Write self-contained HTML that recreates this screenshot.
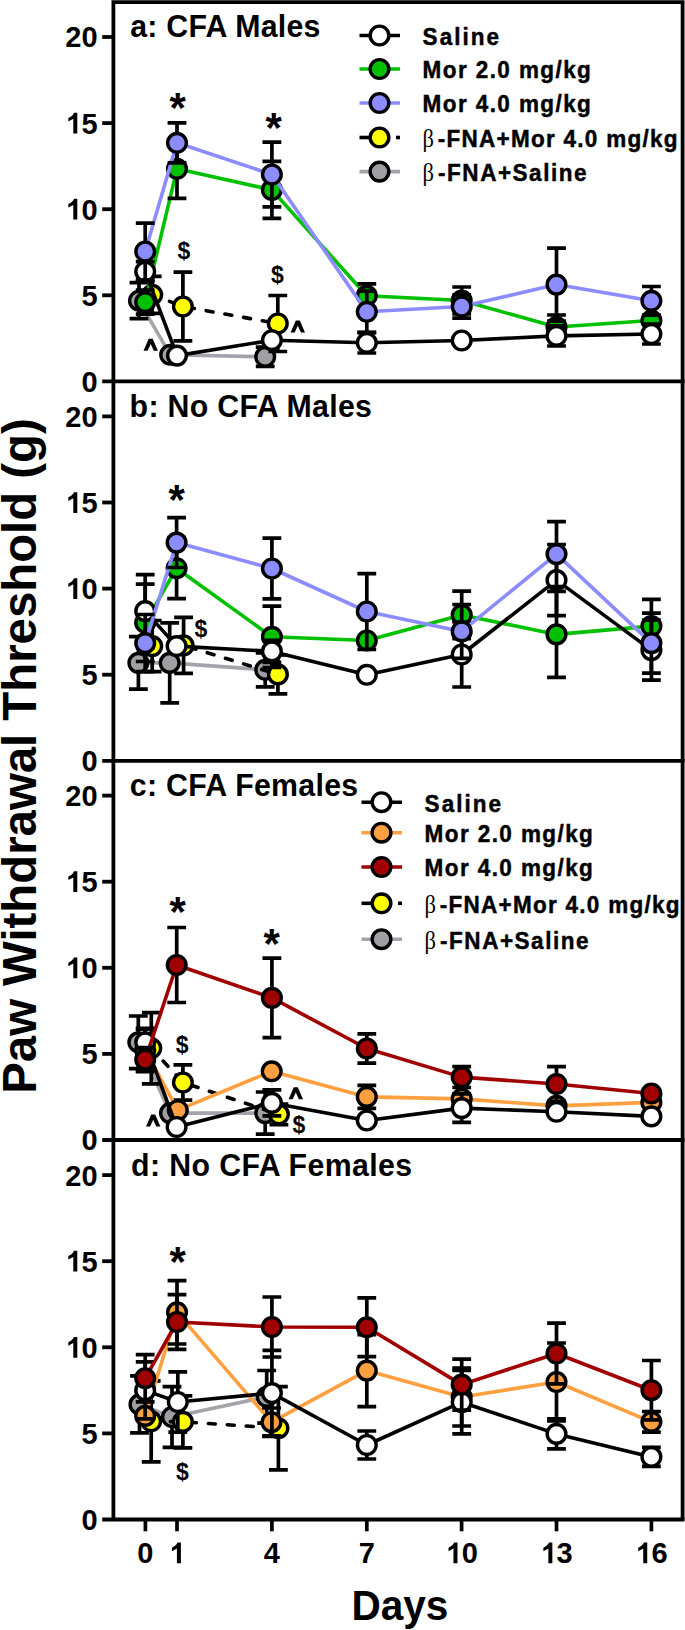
<!DOCTYPE html>
<html><head><meta charset="utf-8"><style>
html,body{margin:0;padding:0;background:#fff;}
svg{display:block;}
</style></head><body>
<svg width="685" height="1630" viewBox="0 0 685 1630">
<rect width="685" height="1630" fill="#fff"/>
<path d="M113.4,1519.5V2.1H682.6V1519.5" fill="none" stroke="#000" stroke-width="3.8"/>
<path d="M102.2,381.4H684.5" stroke="#000" stroke-width="3.8"/>
<path d="M102.2,295.3H113.4" stroke="#000" stroke-width="3.8"/>
<path d="M102.2,209.2H113.4" stroke="#000" stroke-width="3.8"/>
<path d="M102.2,123.1H113.4" stroke="#000" stroke-width="3.8"/>
<path d="M102.2,37.0H113.4" stroke="#000" stroke-width="3.8"/>
<text x="81.48" y="391.8" style="font-family:'Liberation Sans',sans-serif;font-weight:bold;font-size:29px">0</text>
<text x="81.48" y="305.7" style="font-family:'Liberation Sans',sans-serif;font-weight:bold;font-size:29px">5</text>
<path d="M77.30,219.60 L73.30,219.60 L73.30,204.90 L68.34,207.62 L68.34,204.06 L71.15,202.49 L72.95,200.75 L74.05,198.84 L77.30,198.84Z" fill="#000"/>
<text x="81.48" y="219.6" style="font-family:'Liberation Sans',sans-serif;font-weight:bold;font-size:29px">0</text>
<path d="M77.30,133.50 L73.30,133.50 L73.30,118.80 L68.34,121.52 L68.34,117.96 L71.15,116.39 L72.95,114.65 L74.05,112.74 L77.30,112.74Z" fill="#000"/>
<text x="81.48" y="133.5" style="font-family:'Liberation Sans',sans-serif;font-weight:bold;font-size:29px">5</text>
<text x="65.35" y="47.4" style="font-family:'Liberation Sans',sans-serif;font-weight:bold;font-size:29px">2</text>
<text x="81.48" y="47.4" style="font-family:'Liberation Sans',sans-serif;font-weight:bold;font-size:29px">0</text>
<path d="M102.2,760.8H684.5" stroke="#000" stroke-width="3.8"/>
<path d="M102.2,674.7H113.4" stroke="#000" stroke-width="3.8"/>
<path d="M102.2,588.6H113.4" stroke="#000" stroke-width="3.8"/>
<path d="M102.2,502.5H113.4" stroke="#000" stroke-width="3.8"/>
<path d="M102.2,416.4H113.4" stroke="#000" stroke-width="3.8"/>
<text x="81.48" y="771.2" style="font-family:'Liberation Sans',sans-serif;font-weight:bold;font-size:29px">0</text>
<text x="81.48" y="685.1" style="font-family:'Liberation Sans',sans-serif;font-weight:bold;font-size:29px">5</text>
<path d="M77.30,599.00 L73.30,599.00 L73.30,584.30 L68.34,587.02 L68.34,583.46 L71.15,581.89 L72.95,580.15 L74.05,578.24 L77.30,578.24Z" fill="#000"/>
<text x="81.48" y="599.0" style="font-family:'Liberation Sans',sans-serif;font-weight:bold;font-size:29px">0</text>
<path d="M77.30,512.90 L73.30,512.90 L73.30,498.20 L68.34,500.92 L68.34,497.36 L71.15,495.79 L72.95,494.05 L74.05,492.14 L77.30,492.14Z" fill="#000"/>
<text x="81.48" y="512.9" style="font-family:'Liberation Sans',sans-serif;font-weight:bold;font-size:29px">5</text>
<text x="65.35" y="426.8" style="font-family:'Liberation Sans',sans-serif;font-weight:bold;font-size:29px">2</text>
<text x="81.48" y="426.8" style="font-family:'Liberation Sans',sans-serif;font-weight:bold;font-size:29px">0</text>
<path d="M102.2,1140.0H684.5" stroke="#000" stroke-width="3.8"/>
<path d="M102.2,1053.9H113.4" stroke="#000" stroke-width="3.8"/>
<path d="M102.2,967.8H113.4" stroke="#000" stroke-width="3.8"/>
<path d="M102.2,881.7H113.4" stroke="#000" stroke-width="3.8"/>
<path d="M102.2,795.6H113.4" stroke="#000" stroke-width="3.8"/>
<text x="81.48" y="1150.4" style="font-family:'Liberation Sans',sans-serif;font-weight:bold;font-size:29px">0</text>
<text x="81.48" y="1064.3" style="font-family:'Liberation Sans',sans-serif;font-weight:bold;font-size:29px">5</text>
<path d="M77.30,978.20 L73.30,978.20 L73.30,963.50 L68.34,966.22 L68.34,962.66 L71.15,961.09 L72.95,959.35 L74.05,957.44 L77.30,957.44Z" fill="#000"/>
<text x="81.48" y="978.2" style="font-family:'Liberation Sans',sans-serif;font-weight:bold;font-size:29px">0</text>
<path d="M77.30,892.10 L73.30,892.10 L73.30,877.40 L68.34,880.12 L68.34,876.56 L71.15,874.99 L72.95,873.25 L74.05,871.34 L77.30,871.34Z" fill="#000"/>
<text x="81.48" y="892.1" style="font-family:'Liberation Sans',sans-serif;font-weight:bold;font-size:29px">5</text>
<text x="65.35" y="806.0" style="font-family:'Liberation Sans',sans-serif;font-weight:bold;font-size:29px">2</text>
<text x="81.48" y="806.0" style="font-family:'Liberation Sans',sans-serif;font-weight:bold;font-size:29px">0</text>
<path d="M102.2,1519.5H684.5" stroke="#000" stroke-width="3.8"/>
<path d="M102.2,1433.4H113.4" stroke="#000" stroke-width="3.8"/>
<path d="M102.2,1347.3H113.4" stroke="#000" stroke-width="3.8"/>
<path d="M102.2,1261.2H113.4" stroke="#000" stroke-width="3.8"/>
<path d="M102.2,1175.1H113.4" stroke="#000" stroke-width="3.8"/>
<text x="81.48" y="1529.9" style="font-family:'Liberation Sans',sans-serif;font-weight:bold;font-size:29px">0</text>
<text x="81.48" y="1443.8" style="font-family:'Liberation Sans',sans-serif;font-weight:bold;font-size:29px">5</text>
<path d="M77.30,1357.70 L73.30,1357.70 L73.30,1343.00 L68.34,1345.72 L68.34,1342.16 L71.15,1340.59 L72.95,1338.85 L74.05,1336.94 L77.30,1336.94Z" fill="#000"/>
<text x="81.48" y="1357.7" style="font-family:'Liberation Sans',sans-serif;font-weight:bold;font-size:29px">0</text>
<path d="M77.30,1271.60 L73.30,1271.60 L73.30,1256.90 L68.34,1259.62 L68.34,1256.06 L71.15,1254.49 L72.95,1252.75 L74.05,1250.84 L77.30,1250.84Z" fill="#000"/>
<text x="81.48" y="1271.6" style="font-family:'Liberation Sans',sans-serif;font-weight:bold;font-size:29px">5</text>
<text x="65.35" y="1185.5" style="font-family:'Liberation Sans',sans-serif;font-weight:bold;font-size:29px">2</text>
<text x="81.48" y="1185.5" style="font-family:'Liberation Sans',sans-serif;font-weight:bold;font-size:29px">0</text>
<path d="M145.4,1519.5V1531.3" stroke="#000" stroke-width="3.7"/>
<text x="137.34" y="1563.2" style="font-family:'Liberation Sans',sans-serif;font-weight:bold;font-size:29px">0</text>
<path d="M177.0,1519.5V1531.3" stroke="#000" stroke-width="3.7"/>
<path d="M180.91,1563.20 L176.91,1563.20 L176.91,1548.50 L171.95,1551.22 L171.95,1547.66 L174.76,1546.09 L176.56,1544.35 L177.66,1542.44 L180.91,1542.44Z" fill="#000"/>
<path d="M271.9,1519.5V1531.3" stroke="#000" stroke-width="3.7"/>
<text x="263.84" y="1563.2" style="font-family:'Liberation Sans',sans-serif;font-weight:bold;font-size:29px">4</text>
<path d="M366.8,1519.5V1531.3" stroke="#000" stroke-width="3.7"/>
<text x="358.71" y="1563.2" style="font-family:'Liberation Sans',sans-serif;font-weight:bold;font-size:29px">7</text>
<path d="M461.6,1519.5V1531.3" stroke="#000" stroke-width="3.7"/>
<path d="M457.47,1563.20 L453.47,1563.20 L453.47,1548.50 L448.51,1551.22 L448.51,1547.66 L451.33,1546.09 L453.12,1544.35 L454.23,1542.44 L457.47,1542.44Z" fill="#000"/>
<text x="461.65" y="1563.2" style="font-family:'Liberation Sans',sans-serif;font-weight:bold;font-size:29px">0</text>
<path d="M556.5,1519.5V1531.3" stroke="#000" stroke-width="3.7"/>
<path d="M552.35,1563.20 L548.35,1563.20 L548.35,1548.50 L543.39,1551.22 L543.39,1547.66 L546.20,1546.09 L548.00,1544.35 L549.10,1542.44 L552.35,1542.44Z" fill="#000"/>
<text x="556.52" y="1563.2" style="font-family:'Liberation Sans',sans-serif;font-weight:bold;font-size:29px">3</text>
<path d="M651.4,1519.5V1531.3" stroke="#000" stroke-width="3.7"/>
<path d="M647.22,1563.20 L643.22,1563.20 L643.22,1548.50 L638.26,1551.22 L638.26,1547.66 L641.08,1546.09 L642.87,1544.35 L643.98,1542.44 L647.22,1542.44Z" fill="#000"/>
<text x="651.40" y="1563.2" style="font-family:'Liberation Sans',sans-serif;font-weight:bold;font-size:29px">6</text>
<text transform="translate(399.9,1619.8) scale(0.99,1.05)" text-anchor="middle" style="font-family:'Liberation Sans',sans-serif;font-weight:bold;font-size:41px">Days</text>
<text transform="translate(36,756) rotate(-90)" text-anchor="middle" style="font-family:'Liberation Sans',sans-serif;font-weight:bold;font-size:47.35px">Paw Withdrawal Threshold (g)</text>
<text transform="translate(130.2,37.0) scale(1,1.04)" style="font-family:'Liberation Sans',sans-serif;font-weight:bold;font-size:30.3px;letter-spacing:0.25px">a: CFA Males</text>
<text transform="translate(129.6,416.9) scale(1,1.04)" style="font-family:'Liberation Sans',sans-serif;font-weight:bold;font-size:30.3px;letter-spacing:0.32px">b: No CFA Males</text>
<text transform="translate(129.8,795.7) scale(1,1.04)" style="font-family:'Liberation Sans',sans-serif;font-weight:bold;font-size:30.3px;letter-spacing:0.3px">c: CFA Females</text>
<text transform="translate(131,1176.2) scale(1,1.04)" style="font-family:'Liberation Sans',sans-serif;font-weight:bold;font-size:30.3px;letter-spacing:0.39px">d: No CFA Females</text>
<path d="M139.0,300.7 L170.2,354.8 L265.2,356.8" fill="none" stroke="#a3a3a9" stroke-width="3.6" stroke-linejoin="round"/>
<path d="M139.0,282.7V318.7M129.6,282.7H148.4M129.6,318.7H148.4" stroke="#000" stroke-width="3.7" fill="none"/>
<path d="M265.2,347.2V366.4M255.8,347.2H274.6M255.8,366.4H274.6" stroke="#000" stroke-width="3.7" fill="none"/>
<circle cx="139.0" cy="300.7" r="9.35" fill="#a0a0a4" stroke="#000" stroke-width="3.4"/>
<circle cx="170.2" cy="354.8" r="9.35" fill="#a0a0a4" stroke="#000" stroke-width="3.4"/>
<circle cx="265.2" cy="356.8" r="9.35" fill="#a0a0a4" stroke="#000" stroke-width="3.4"/>
<path d="M152.2,294.8 L182.9,306.5 L277.8,323.5" fill="none" stroke="#000000" stroke-width="3.6" stroke-linejoin="round" stroke-dasharray="7,12" stroke-dashoffset="0.5" stroke-linecap="round"/>
<path d="M152.2,276.3V313.3M142.8,276.3H161.6M142.8,313.3H161.6" stroke="#000" stroke-width="3.7" fill="none"/>
<path d="M182.9,272.2V340.8M173.5,272.2H192.3M173.5,340.8H192.3" stroke="#000" stroke-width="3.7" fill="none"/>
<path d="M277.8,295.5V351.5M268.4,295.5H287.2M268.4,351.5H287.2" stroke="#000" stroke-width="3.7" fill="none"/>
<circle cx="152.2" cy="294.8" r="9.35" fill="#ffff00" stroke="#000" stroke-width="3.4"/>
<circle cx="182.9" cy="306.5" r="9.35" fill="#ffff00" stroke="#000" stroke-width="3.4"/>
<circle cx="277.8" cy="323.5" r="9.35" fill="#ffff00" stroke="#000" stroke-width="3.4"/>
<path d="M145.2,302.2 L177.0,168.8 L271.9,189.9 L366.8,295.8 L461.7,300.5 L556.5,327.0 L651.4,320.5" fill="none" stroke="#00c000" stroke-width="3.6" stroke-linejoin="round"/>
<path d="M145.2,290.2V314.2M135.8,290.2H154.6M135.8,314.2H154.6" stroke="#000" stroke-width="3.7" fill="none"/>
<path d="M177.0,139.3V198.3M167.6,139.3H186.4M167.6,198.3H186.4" stroke="#000" stroke-width="3.7" fill="none"/>
<path d="M271.9,161.4V218.4M262.5,161.4H281.3M262.5,218.4H281.3" stroke="#000" stroke-width="3.7" fill="none"/>
<path d="M366.8,283.8V307.8M357.4,283.8H376.2M357.4,307.8H376.2" stroke="#000" stroke-width="3.7" fill="none"/>
<path d="M461.7,287.0V314.0M452.3,287.0H471.1M452.3,314.0H471.1" stroke="#000" stroke-width="3.7" fill="none"/>
<path d="M556.5,315.0V339.0M547.1,315.0H565.9M547.1,339.0H565.9" stroke="#000" stroke-width="3.7" fill="none"/>
<circle cx="145.2" cy="302.2" r="9.35" fill="#00c000" stroke="#000" stroke-width="3.4"/>
<circle cx="177.0" cy="168.8" r="9.35" fill="#00c000" stroke="#000" stroke-width="3.4"/>
<circle cx="271.9" cy="189.9" r="9.35" fill="#00c000" stroke="#000" stroke-width="3.4"/>
<circle cx="366.8" cy="295.8" r="9.35" fill="#00c000" stroke="#000" stroke-width="3.4"/>
<circle cx="461.7" cy="300.5" r="9.35" fill="#00c000" stroke="#000" stroke-width="3.4"/>
<circle cx="556.5" cy="327.0" r="9.35" fill="#00c000" stroke="#000" stroke-width="3.4"/>
<circle cx="651.4" cy="320.5" r="9.35" fill="#00c000" stroke="#000" stroke-width="3.4"/>
<path d="M145.2,271.6 L177.0,355.6 L271.9,340.2 L366.8,342.8 L461.7,340.5 L556.5,335.9 L651.4,334.0" fill="none" stroke="#000000" stroke-width="3.6" stroke-linejoin="round"/>
<path d="M145.2,261.6V281.6M135.8,261.6H154.6M135.8,281.6H154.6" stroke="#000" stroke-width="3.7" fill="none"/>
<path d="M366.8,332.6V353.0M357.4,332.6H376.2M357.4,353.0H376.2" stroke="#000" stroke-width="3.7" fill="none"/>
<path d="M556.5,325.8V346.0M547.1,325.8H565.9M547.1,346.0H565.9" stroke="#000" stroke-width="3.7" fill="none"/>
<path d="M651.4,324.0V344.0M642.0,324.0H660.8M642.0,344.0H660.8" stroke="#000" stroke-width="3.7" fill="none"/>
<circle cx="145.2" cy="271.6" r="9.35" fill="#ffffff" stroke="#000" stroke-width="3.4"/>
<circle cx="177.0" cy="355.6" r="9.35" fill="#ffffff" stroke="#000" stroke-width="3.4"/>
<circle cx="271.9" cy="340.2" r="9.35" fill="#ffffff" stroke="#000" stroke-width="3.4"/>
<circle cx="366.8" cy="342.8" r="9.35" fill="#ffffff" stroke="#000" stroke-width="3.4"/>
<circle cx="461.7" cy="340.5" r="9.35" fill="#ffffff" stroke="#000" stroke-width="3.4"/>
<circle cx="556.5" cy="335.9" r="9.35" fill="#ffffff" stroke="#000" stroke-width="3.4"/>
<circle cx="651.4" cy="334.0" r="9.35" fill="#ffffff" stroke="#000" stroke-width="3.4"/>
<path d="M145.2,251.5 L177.0,142.8 L271.9,174.5 L366.8,311.8 L461.7,306.5 L556.5,284.6 L651.4,300.8" fill="none" stroke="#8c8cff" stroke-width="3.6" stroke-linejoin="round"/>
<path d="M145.2,223.2V279.8M135.8,223.2H154.6M135.8,279.8H154.6" stroke="#000" stroke-width="3.7" fill="none"/>
<path d="M177.0,122.8V162.8M167.6,122.8H186.4M167.6,162.8H186.4" stroke="#000" stroke-width="3.7" fill="none"/>
<path d="M271.9,142.1V206.9M262.5,142.1H281.3M262.5,206.9H281.3" stroke="#000" stroke-width="3.7" fill="none"/>
<path d="M366.8,291.2V332.4M357.4,291.2H376.2M357.4,332.4H376.2" stroke="#000" stroke-width="3.7" fill="none"/>
<path d="M461.7,294.9V318.1M452.3,294.9H471.1M452.3,318.1H471.1" stroke="#000" stroke-width="3.7" fill="none"/>
<path d="M556.5,248.1V321.1M547.1,248.1H565.9M547.1,321.1H565.9" stroke="#000" stroke-width="3.7" fill="none"/>
<path d="M651.4,286.5V315.1M642.0,286.5H660.8M642.0,315.1H660.8" stroke="#000" stroke-width="3.7" fill="none"/>
<circle cx="145.2" cy="251.5" r="9.35" fill="#8c8cff" stroke="#000" stroke-width="3.4"/>
<circle cx="177.0" cy="142.8" r="9.35" fill="#8c8cff" stroke="#000" stroke-width="3.4"/>
<circle cx="271.9" cy="174.5" r="9.35" fill="#8c8cff" stroke="#000" stroke-width="3.4"/>
<circle cx="366.8" cy="311.8" r="9.35" fill="#8c8cff" stroke="#000" stroke-width="3.4"/>
<circle cx="461.7" cy="306.5" r="9.35" fill="#8c8cff" stroke="#000" stroke-width="3.4"/>
<circle cx="556.5" cy="284.6" r="9.35" fill="#8c8cff" stroke="#000" stroke-width="3.4"/>
<circle cx="651.4" cy="300.8" r="9.35" fill="#8c8cff" stroke="#000" stroke-width="3.4"/>
<path d="M138.4,662.9 L169.7,662.9 L265.2,669.8" fill="none" stroke="#a3a3a9" stroke-width="3.6" stroke-linejoin="round"/>
<path d="M138.4,636.6V689.2M129.0,636.6H147.8M129.0,689.2H147.8" stroke="#000" stroke-width="3.7" fill="none"/>
<path d="M169.7,622.9V702.9M160.3,622.9H179.1M160.3,702.9H179.1" stroke="#000" stroke-width="3.7" fill="none"/>
<path d="M265.2,652.8V686.8M255.8,652.8H274.6M255.8,686.8H274.6" stroke="#000" stroke-width="3.7" fill="none"/>
<circle cx="138.4" cy="662.9" r="9.35" fill="#a0a0a4" stroke="#000" stroke-width="3.4"/>
<circle cx="169.7" cy="662.9" r="9.35" fill="#a0a0a4" stroke="#000" stroke-width="3.4"/>
<circle cx="265.2" cy="669.8" r="9.35" fill="#a0a0a4" stroke="#000" stroke-width="3.4"/>
<path d="M152.2,646.1 L183.6,645.4 L277.9,674.4" fill="none" stroke="#000000" stroke-width="3.6" stroke-linejoin="round" stroke-dasharray="7,12" stroke-dashoffset="0.8" stroke-linecap="round"/>
<path d="M152.2,620.5V671.7M142.8,620.5H161.6M142.8,671.7H161.6" stroke="#000" stroke-width="3.7" fill="none"/>
<path d="M183.6,617.4V673.4M174.2,617.4H193.0M174.2,673.4H193.0" stroke="#000" stroke-width="3.7" fill="none"/>
<path d="M277.9,655.0V693.8M268.5,655.0H287.3M268.5,693.8H287.3" stroke="#000" stroke-width="3.7" fill="none"/>
<circle cx="152.2" cy="646.1" r="9.35" fill="#ffff00" stroke="#000" stroke-width="3.4"/>
<circle cx="183.6" cy="645.4" r="9.35" fill="#ffff00" stroke="#000" stroke-width="3.4"/>
<circle cx="277.9" cy="674.4" r="9.35" fill="#ffff00" stroke="#000" stroke-width="3.4"/>
<path d="M145.2,622.8 L176.6,568.2 L271.9,636.8 L366.8,640.5 L461.7,614.9 L556.5,634.4 L651.4,626.1" fill="none" stroke="#00c000" stroke-width="3.6" stroke-linejoin="round"/>
<path d="M145.2,584.1V661.5M135.8,584.1H154.6M135.8,661.5H154.6" stroke="#000" stroke-width="3.7" fill="none"/>
<path d="M176.6,537.7V598.7M167.2,537.7H186.0M167.2,598.7H186.0" stroke="#000" stroke-width="3.7" fill="none"/>
<path d="M271.9,606.1V667.5M262.5,606.1H281.3M262.5,667.5H281.3" stroke="#000" stroke-width="3.7" fill="none"/>
<path d="M461.7,591.2V638.6M452.3,591.2H471.1M452.3,638.6H471.1" stroke="#000" stroke-width="3.7" fill="none"/>
<path d="M556.5,591.4V677.4M547.1,591.4H565.9M547.1,677.4H565.9" stroke="#000" stroke-width="3.7" fill="none"/>
<path d="M651.4,599.3V652.9M642.0,599.3H660.8M642.0,652.9H660.8" stroke="#000" stroke-width="3.7" fill="none"/>
<circle cx="145.2" cy="622.8" r="9.35" fill="#00c000" stroke="#000" stroke-width="3.4"/>
<circle cx="176.6" cy="568.2" r="9.35" fill="#00c000" stroke="#000" stroke-width="3.4"/>
<circle cx="271.9" cy="636.8" r="9.35" fill="#00c000" stroke="#000" stroke-width="3.4"/>
<circle cx="366.8" cy="640.5" r="9.35" fill="#00c000" stroke="#000" stroke-width="3.4"/>
<circle cx="461.7" cy="614.9" r="9.35" fill="#00c000" stroke="#000" stroke-width="3.4"/>
<circle cx="556.5" cy="634.4" r="9.35" fill="#00c000" stroke="#000" stroke-width="3.4"/>
<circle cx="651.4" cy="626.1" r="9.35" fill="#00c000" stroke="#000" stroke-width="3.4"/>
<path d="M145.2,611.1 L176.6,646.1 L271.9,651.4 L366.8,674.8 L461.7,654.5 L556.5,580.1 L651.4,650.1" fill="none" stroke="#000000" stroke-width="3.6" stroke-linejoin="round"/>
<path d="M145.2,574.6V647.6M135.8,574.6H154.6M135.8,647.6H154.6" stroke="#000" stroke-width="3.7" fill="none"/>
<path d="M271.9,640.4V662.4M262.5,640.4H281.3M262.5,662.4H281.3" stroke="#000" stroke-width="3.7" fill="none"/>
<path d="M461.7,622.0V687.0M452.3,622.0H471.1M452.3,687.0H471.1" stroke="#000" stroke-width="3.7" fill="none"/>
<path d="M556.5,544.5V615.7M547.1,544.5H565.9M547.1,615.7H565.9" stroke="#000" stroke-width="3.7" fill="none"/>
<path d="M651.4,620.1V680.1M642.0,620.1H660.8M642.0,680.1H660.8" stroke="#000" stroke-width="3.7" fill="none"/>
<circle cx="145.2" cy="611.1" r="9.35" fill="#ffffff" stroke="#000" stroke-width="3.4"/>
<circle cx="176.6" cy="646.1" r="9.35" fill="#ffffff" stroke="#000" stroke-width="3.4"/>
<circle cx="271.9" cy="651.4" r="9.35" fill="#ffffff" stroke="#000" stroke-width="3.4"/>
<circle cx="366.8" cy="674.8" r="9.35" fill="#ffffff" stroke="#000" stroke-width="3.4"/>
<circle cx="461.7" cy="654.5" r="9.35" fill="#ffffff" stroke="#000" stroke-width="3.4"/>
<circle cx="556.5" cy="580.1" r="9.35" fill="#ffffff" stroke="#000" stroke-width="3.4"/>
<circle cx="651.4" cy="650.1" r="9.35" fill="#ffffff" stroke="#000" stroke-width="3.4"/>
<path d="M145.2,643.1 L176.6,542.6 L271.9,568.5 L366.8,611.5 L461.7,631.4 L556.5,554.1 L651.4,643.1" fill="none" stroke="#8c8cff" stroke-width="3.6" stroke-linejoin="round"/>
<path d="M145.2,614.5V671.7M135.8,614.5H154.6M135.8,671.7H154.6" stroke="#000" stroke-width="3.7" fill="none"/>
<path d="M176.6,517.7V567.5M167.2,517.7H186.0M167.2,567.5H186.0" stroke="#000" stroke-width="3.7" fill="none"/>
<path d="M271.9,538.2V598.8M262.5,538.2H281.3M262.5,598.8H281.3" stroke="#000" stroke-width="3.7" fill="none"/>
<path d="M366.8,573.6V649.4M357.4,573.6H376.2M357.4,649.4H376.2" stroke="#000" stroke-width="3.7" fill="none"/>
<path d="M461.7,604.5V658.3M452.3,604.5H471.1M452.3,658.3H471.1" stroke="#000" stroke-width="3.7" fill="none"/>
<path d="M556.5,521.7V586.5M547.1,521.7H565.9M547.1,586.5H565.9" stroke="#000" stroke-width="3.7" fill="none"/>
<path d="M651.4,613.1V673.1M642.0,613.1H660.8M642.0,673.1H660.8" stroke="#000" stroke-width="3.7" fill="none"/>
<circle cx="145.2" cy="643.1" r="9.35" fill="#8c8cff" stroke="#000" stroke-width="3.4"/>
<circle cx="176.6" cy="542.6" r="9.35" fill="#8c8cff" stroke="#000" stroke-width="3.4"/>
<circle cx="271.9" cy="568.5" r="9.35" fill="#8c8cff" stroke="#000" stroke-width="3.4"/>
<circle cx="366.8" cy="611.5" r="9.35" fill="#8c8cff" stroke="#000" stroke-width="3.4"/>
<circle cx="461.7" cy="631.4" r="9.35" fill="#8c8cff" stroke="#000" stroke-width="3.4"/>
<circle cx="556.5" cy="554.1" r="9.35" fill="#8c8cff" stroke="#000" stroke-width="3.4"/>
<circle cx="651.4" cy="643.1" r="9.35" fill="#8c8cff" stroke="#000" stroke-width="3.4"/>
<path d="M138.3,1042.3 L170.0,1113.1 L265.2,1113.1" fill="none" stroke="#a3a3a9" stroke-width="3.6" stroke-linejoin="round"/>
<path d="M138.3,1016.0V1068.6M128.9,1016.0H147.7M128.9,1068.6H147.7" stroke="#000" stroke-width="3.7" fill="none"/>
<path d="M265.2,1092.0V1134.2M255.8,1092.0H274.6M255.8,1134.2H274.6" stroke="#000" stroke-width="3.7" fill="none"/>
<circle cx="138.3" cy="1042.3" r="9.35" fill="#a0a0a4" stroke="#000" stroke-width="3.4"/>
<circle cx="170.0" cy="1113.1" r="9.35" fill="#a0a0a4" stroke="#000" stroke-width="3.4"/>
<circle cx="265.2" cy="1113.1" r="9.35" fill="#a0a0a4" stroke="#000" stroke-width="3.4"/>
<path d="M151.3,1048.2 L182.9,1082.5 L278.9,1114.3" fill="none" stroke="#000000" stroke-width="3.6" stroke-linejoin="round" stroke-dasharray="7,12" stroke-dashoffset="1.5" stroke-linecap="round"/>
<path d="M151.3,1012.6V1083.8M141.9,1012.6H160.7M141.9,1083.8H160.7" stroke="#000" stroke-width="3.7" fill="none"/>
<path d="M182.9,1064.8V1100.2M173.5,1064.8H192.3M173.5,1100.2H192.3" stroke="#000" stroke-width="3.7" fill="none"/>
<path d="M278.9,1104.0V1124.6M269.5,1104.0H288.3M269.5,1124.6H288.3" stroke="#000" stroke-width="3.7" fill="none"/>
<circle cx="151.3" cy="1048.2" r="9.35" fill="#ffff00" stroke="#000" stroke-width="3.4"/>
<circle cx="182.9" cy="1082.5" r="9.35" fill="#ffff00" stroke="#000" stroke-width="3.4"/>
<circle cx="278.9" cy="1114.3" r="9.35" fill="#ffff00" stroke="#000" stroke-width="3.4"/>
<path d="M145.2,1050.2 L177.8,1110.2 L271.7,1071.3 L366.8,1096.9 L461.7,1098.9 L556.5,1105.9 L651.4,1102.4" fill="none" stroke="#ffa040" stroke-width="3.6" stroke-linejoin="round"/>
<path d="M145.2,1029.2V1071.2M135.8,1029.2H154.6M135.8,1071.2H154.6" stroke="#000" stroke-width="3.7" fill="none"/>
<path d="M366.8,1085.4V1108.4M357.4,1085.4H376.2M357.4,1108.4H376.2" stroke="#000" stroke-width="3.7" fill="none"/>
<circle cx="145.2" cy="1050.2" r="9.35" fill="#ffa040" stroke="#000" stroke-width="3.4"/>
<circle cx="177.8" cy="1110.2" r="9.35" fill="#ffa040" stroke="#000" stroke-width="3.4"/>
<circle cx="271.7" cy="1071.3" r="9.35" fill="#ffa040" stroke="#000" stroke-width="3.4"/>
<circle cx="366.8" cy="1096.9" r="9.35" fill="#ffa040" stroke="#000" stroke-width="3.4"/>
<circle cx="461.7" cy="1098.9" r="9.35" fill="#ffa040" stroke="#000" stroke-width="3.4"/>
<circle cx="556.5" cy="1105.9" r="9.35" fill="#ffa040" stroke="#000" stroke-width="3.4"/>
<circle cx="651.4" cy="1102.4" r="9.35" fill="#ffa040" stroke="#000" stroke-width="3.4"/>
<path d="M145.2,1042.3 L176.6,1127.0 L271.9,1102.9 L366.8,1120.5 L461.7,1108.1 L556.5,1111.8 L651.4,1116.4" fill="none" stroke="#000000" stroke-width="3.6" stroke-linejoin="round"/>
<path d="M145.2,1028.3V1056.3M135.8,1028.3H154.6M135.8,1056.3H154.6" stroke="#000" stroke-width="3.7" fill="none"/>
<path d="M271.9,1089.9V1115.9M262.5,1089.9H281.3M262.5,1115.9H281.3" stroke="#000" stroke-width="3.7" fill="none"/>
<path d="M461.7,1093.9V1122.3M452.3,1093.9H471.1M452.3,1122.3H471.1" stroke="#000" stroke-width="3.7" fill="none"/>
<circle cx="145.2" cy="1042.3" r="9.35" fill="#ffffff" stroke="#000" stroke-width="3.4"/>
<circle cx="176.6" cy="1127.0" r="9.35" fill="#ffffff" stroke="#000" stroke-width="3.4"/>
<circle cx="271.9" cy="1102.9" r="9.35" fill="#ffffff" stroke="#000" stroke-width="3.4"/>
<circle cx="366.8" cy="1120.5" r="9.35" fill="#ffffff" stroke="#000" stroke-width="3.4"/>
<circle cx="461.7" cy="1108.1" r="9.35" fill="#ffffff" stroke="#000" stroke-width="3.4"/>
<circle cx="556.5" cy="1111.8" r="9.35" fill="#ffffff" stroke="#000" stroke-width="3.4"/>
<circle cx="651.4" cy="1116.4" r="9.35" fill="#ffffff" stroke="#000" stroke-width="3.4"/>
<path d="M145.2,1059.6 L176.7,965.0 L271.9,997.9 L366.8,1048.5 L461.7,1077.1 L556.5,1084.0 L651.4,1093.5" fill="none" stroke="#a00000" stroke-width="3.6" stroke-linejoin="round"/>
<path d="M145.2,1047.6V1071.6M135.8,1047.6H154.6M135.8,1071.6H154.6" stroke="#000" stroke-width="3.7" fill="none"/>
<path d="M176.7,927.5V1002.5M167.3,927.5H186.1M167.3,1002.5H186.1" stroke="#000" stroke-width="3.7" fill="none"/>
<path d="M271.9,958.1V1037.7M262.5,958.1H281.3M262.5,1037.7H281.3" stroke="#000" stroke-width="3.7" fill="none"/>
<path d="M366.8,1033.9V1063.1M357.4,1033.9H376.2M357.4,1063.1H376.2" stroke="#000" stroke-width="3.7" fill="none"/>
<path d="M461.7,1066.7V1087.5M452.3,1066.7H471.1M452.3,1087.5H471.1" stroke="#000" stroke-width="3.7" fill="none"/>
<path d="M556.5,1066.7V1101.3M547.1,1066.7H565.9M547.1,1101.3H565.9" stroke="#000" stroke-width="3.7" fill="none"/>
<circle cx="145.2" cy="1059.6" r="9.35" fill="#a00000" stroke="#000" stroke-width="3.4"/>
<circle cx="176.7" cy="965.0" r="9.35" fill="#a00000" stroke="#000" stroke-width="3.4"/>
<circle cx="271.9" cy="997.9" r="9.35" fill="#a00000" stroke="#000" stroke-width="3.4"/>
<circle cx="366.8" cy="1048.5" r="9.35" fill="#a00000" stroke="#000" stroke-width="3.4"/>
<circle cx="461.7" cy="1077.1" r="9.35" fill="#a00000" stroke="#000" stroke-width="3.4"/>
<circle cx="556.5" cy="1084.0" r="9.35" fill="#a00000" stroke="#000" stroke-width="3.4"/>
<circle cx="651.4" cy="1093.5" r="9.35" fill="#a00000" stroke="#000" stroke-width="3.4"/>
<path d="M139.5,1404.4 L172.0,1417.0 L266.7,1396.8" fill="none" stroke="#a3a3a9" stroke-width="3.6" stroke-linejoin="round"/>
<path d="M139.5,1375.9V1432.9M130.1,1375.9H148.9M130.1,1432.9H148.9" stroke="#000" stroke-width="3.7" fill="none"/>
<path d="M172.0,1386.7V1447.3M162.6,1386.7H181.4M162.6,1447.3H181.4" stroke="#000" stroke-width="3.7" fill="none"/>
<path d="M266.7,1370.5V1423.1M257.3,1370.5H276.1M257.3,1423.1H276.1" stroke="#000" stroke-width="3.7" fill="none"/>
<circle cx="139.5" cy="1404.4" r="9.35" fill="#a0a0a4" stroke="#000" stroke-width="3.4"/>
<circle cx="172.0" cy="1417.0" r="9.35" fill="#a0a0a4" stroke="#000" stroke-width="3.4"/>
<circle cx="266.7" cy="1396.8" r="9.35" fill="#a0a0a4" stroke="#000" stroke-width="3.4"/>
<path d="M151.2,1421.3 L182.9,1421.8 L278.4,1428.2" fill="none" stroke="#000000" stroke-width="3.6" stroke-linejoin="round" stroke-dasharray="7,12" stroke-dashoffset="-0.2" stroke-linecap="round"/>
<path d="M151.2,1380.8V1461.8M141.8,1380.8H160.6M141.8,1461.8H160.6" stroke="#000" stroke-width="3.7" fill="none"/>
<path d="M182.9,1395.8V1447.8M173.5,1395.8H192.3M173.5,1447.8H192.3" stroke="#000" stroke-width="3.7" fill="none"/>
<path d="M278.4,1386.6V1469.8M269.0,1386.6H287.8M269.0,1469.8H287.8" stroke="#000" stroke-width="3.7" fill="none"/>
<circle cx="151.2" cy="1421.3" r="9.35" fill="#ffff00" stroke="#000" stroke-width="3.4"/>
<circle cx="182.9" cy="1421.8" r="9.35" fill="#ffff00" stroke="#000" stroke-width="3.4"/>
<circle cx="278.4" cy="1428.2" r="9.35" fill="#ffff00" stroke="#000" stroke-width="3.4"/>
<path d="M145.2,1415.9 L177.0,1312.3 L271.5,1422.2 L366.8,1370.6 L461.7,1397.0 L556.5,1382.0 L651.4,1421.8" fill="none" stroke="#ffa040" stroke-width="3.6" stroke-linejoin="round"/>
<path d="M177.0,1280.6V1344.0M167.6,1280.6H186.4M167.6,1344.0H186.4" stroke="#000" stroke-width="3.7" fill="none"/>
<path d="M271.5,1408.0V1436.4M262.1,1408.0H280.9M262.1,1436.4H280.9" stroke="#000" stroke-width="3.7" fill="none"/>
<path d="M366.8,1334.6V1406.6M357.4,1334.6H376.2M357.4,1406.6H376.2" stroke="#000" stroke-width="3.7" fill="none"/>
<path d="M461.7,1368.0V1426.0M452.3,1368.0H471.1M452.3,1426.0H471.1" stroke="#000" stroke-width="3.7" fill="none"/>
<path d="M556.5,1343.0V1421.0M547.1,1343.0H565.9M547.1,1421.0H565.9" stroke="#000" stroke-width="3.7" fill="none"/>
<path d="M651.4,1411.5V1432.1M642.0,1411.5H660.8M642.0,1432.1H660.8" stroke="#000" stroke-width="3.7" fill="none"/>
<circle cx="145.2" cy="1415.9" r="9.35" fill="#ffa040" stroke="#000" stroke-width="3.4"/>
<circle cx="177.0" cy="1312.3" r="9.35" fill="#ffa040" stroke="#000" stroke-width="3.4"/>
<circle cx="271.5" cy="1422.2" r="9.35" fill="#ffa040" stroke="#000" stroke-width="3.4"/>
<circle cx="366.8" cy="1370.6" r="9.35" fill="#ffa040" stroke="#000" stroke-width="3.4"/>
<circle cx="461.7" cy="1397.0" r="9.35" fill="#ffa040" stroke="#000" stroke-width="3.4"/>
<circle cx="556.5" cy="1382.0" r="9.35" fill="#ffa040" stroke="#000" stroke-width="3.4"/>
<circle cx="651.4" cy="1421.8" r="9.35" fill="#ffa040" stroke="#000" stroke-width="3.4"/>
<path d="M145.2,1390.4 L177.8,1402.0 L271.9,1393.1 L366.8,1445.0 L461.7,1402.2 L556.5,1433.9 L651.4,1456.9" fill="none" stroke="#000000" stroke-width="3.6" stroke-linejoin="round"/>
<path d="M145.2,1361.9V1418.9M135.8,1361.9H154.6M135.8,1418.9H154.6" stroke="#000" stroke-width="3.7" fill="none"/>
<path d="M177.8,1371.8V1432.2M168.4,1371.8H187.2M168.4,1432.2H187.2" stroke="#000" stroke-width="3.7" fill="none"/>
<path d="M271.9,1350.4V1435.8M262.5,1350.4H281.3M262.5,1435.8H281.3" stroke="#000" stroke-width="3.7" fill="none"/>
<path d="M366.8,1431.0V1459.0M357.4,1431.0H376.2M357.4,1459.0H376.2" stroke="#000" stroke-width="3.7" fill="none"/>
<path d="M461.7,1370.5V1433.9M452.3,1370.5H471.1M452.3,1433.9H471.1" stroke="#000" stroke-width="3.7" fill="none"/>
<path d="M556.5,1418.9V1448.9M547.1,1418.9H565.9M547.1,1448.9H565.9" stroke="#000" stroke-width="3.7" fill="none"/>
<path d="M651.4,1447.4V1466.4M642.0,1447.4H660.8M642.0,1466.4H660.8" stroke="#000" stroke-width="3.7" fill="none"/>
<circle cx="145.2" cy="1390.4" r="9.35" fill="#ffffff" stroke="#000" stroke-width="3.4"/>
<circle cx="177.8" cy="1402.0" r="9.35" fill="#ffffff" stroke="#000" stroke-width="3.4"/>
<circle cx="271.9" cy="1393.1" r="9.35" fill="#ffffff" stroke="#000" stroke-width="3.4"/>
<circle cx="366.8" cy="1445.0" r="9.35" fill="#ffffff" stroke="#000" stroke-width="3.4"/>
<circle cx="461.7" cy="1402.2" r="9.35" fill="#ffffff" stroke="#000" stroke-width="3.4"/>
<circle cx="556.5" cy="1433.9" r="9.35" fill="#ffffff" stroke="#000" stroke-width="3.4"/>
<circle cx="651.4" cy="1456.9" r="9.35" fill="#ffffff" stroke="#000" stroke-width="3.4"/>
<path d="M145.2,1378.2 L177.0,1322.0 L271.9,1327.0 L366.8,1327.3 L461.7,1384.6 L556.5,1353.5 L651.4,1390.2" fill="none" stroke="#a00000" stroke-width="3.6" stroke-linejoin="round"/>
<path d="M145.2,1354.6V1401.8M135.8,1354.6H154.6M135.8,1401.8H154.6" stroke="#000" stroke-width="3.7" fill="none"/>
<path d="M177.0,1294.7V1349.3M167.6,1294.7H186.4M167.6,1349.3H186.4" stroke="#000" stroke-width="3.7" fill="none"/>
<path d="M271.9,1297.0V1357.0M262.5,1297.0H281.3M262.5,1357.0H281.3" stroke="#000" stroke-width="3.7" fill="none"/>
<path d="M366.8,1297.9V1356.7M357.4,1297.9H376.2M357.4,1356.7H376.2" stroke="#000" stroke-width="3.7" fill="none"/>
<path d="M461.7,1359.1V1410.1M452.3,1359.1H471.1M452.3,1410.1H471.1" stroke="#000" stroke-width="3.7" fill="none"/>
<path d="M556.5,1323.2V1383.8M547.1,1323.2H565.9M547.1,1383.8H565.9" stroke="#000" stroke-width="3.7" fill="none"/>
<path d="M651.4,1360.5V1419.9M642.0,1360.5H660.8M642.0,1419.9H660.8" stroke="#000" stroke-width="3.7" fill="none"/>
<circle cx="145.2" cy="1378.2" r="9.35" fill="#a00000" stroke="#000" stroke-width="3.4"/>
<circle cx="177.0" cy="1322.0" r="9.35" fill="#a00000" stroke="#000" stroke-width="3.4"/>
<circle cx="271.9" cy="1327.0" r="9.35" fill="#a00000" stroke="#000" stroke-width="3.4"/>
<circle cx="366.8" cy="1327.3" r="9.35" fill="#a00000" stroke="#000" stroke-width="3.4"/>
<circle cx="461.7" cy="1384.6" r="9.35" fill="#a00000" stroke="#000" stroke-width="3.4"/>
<circle cx="556.5" cy="1353.5" r="9.35" fill="#a00000" stroke="#000" stroke-width="3.4"/>
<circle cx="651.4" cy="1390.2" r="9.35" fill="#a00000" stroke="#000" stroke-width="3.4"/>
<text x="177.6" y="122.3" text-anchor="middle" style="font-family:'Liberation Sans',sans-serif;font-weight:bold;font-size:42px">*</text>
<text x="273.6" y="142.0" text-anchor="middle" style="font-family:'Liberation Sans',sans-serif;font-weight:bold;font-size:42px">*</text>
<text x="183.8" y="258.5" text-anchor="middle" style="font-family:'Liberation Sans',sans-serif;font-weight:bold;font-size:23px">$</text>
<text x="277.5" y="282.7" text-anchor="middle" style="font-family:'Liberation Sans',sans-serif;font-weight:bold;font-size:23px">$</text>
<path d="M143.5,350.8 L148.7,338.8 L152.7,338.8 L157.9,350.8 L153.8,350.8 L150.7,343.9 L147.6,350.8Z" fill="#000"/>
<path d="M290.6,332.6 L295.8,320.6 L299.8,320.6 L305.0,332.6 L300.9,332.6 L297.8,325.7 L294.7,332.6Z" fill="#000"/>
<text x="176.7" y="514.1" text-anchor="middle" style="font-family:'Liberation Sans',sans-serif;font-weight:bold;font-size:42px">*</text>
<text x="200.9" y="636.6" text-anchor="middle" style="font-family:'Liberation Sans',sans-serif;font-weight:bold;font-size:23px">$</text>
<text x="177.6" y="925.9" text-anchor="middle" style="font-family:'Liberation Sans',sans-serif;font-weight:bold;font-size:42px">*</text>
<text x="271.8" y="957.5" text-anchor="middle" style="font-family:'Liberation Sans',sans-serif;font-weight:bold;font-size:42px">*</text>
<text x="182.1" y="1053.0" text-anchor="middle" style="font-family:'Liberation Sans',sans-serif;font-weight:bold;font-size:23px">$</text>
<text x="298.8" y="1132.5" text-anchor="middle" style="font-family:'Liberation Sans',sans-serif;font-weight:bold;font-size:23px">$</text>
<path d="M146.0,1126.6 L151.2,1114.6 L155.2,1114.6 L160.4,1126.6 L156.3,1126.6 L153.2,1119.7 L150.1,1126.6Z" fill="#000"/>
<path d="M288.6,1099.3 L293.8,1087.3 L297.8,1087.3 L303.0,1099.3 L298.9,1099.3 L295.8,1092.4 L292.7,1099.3Z" fill="#000"/>
<text x="177.8" y="1275.5" text-anchor="middle" style="font-family:'Liberation Sans',sans-serif;font-weight:bold;font-size:42px">*</text>
<text x="182.5" y="1479.9" text-anchor="middle" style="font-family:'Liberation Sans',sans-serif;font-weight:bold;font-size:23px">$</text>
<path d="M359.5,35.5H400.0" stroke="#000000" stroke-width="3.6"/>
<circle cx="379.5" cy="35.5" r="9.35" fill="#ffffff" stroke="#000" stroke-width="3.4"/>
<text transform="translate(422.6,44.9) scale(1,1.1)" style="font-family:'Liberation Sans',sans-serif;font-weight:bold;font-size:22.5px;letter-spacing:2.04px;stroke:#000;stroke-width:0.45px">Saline</text>
<path d="M359.5,69H400.0" stroke="#00c000" stroke-width="3.6"/>
<circle cx="379.5" cy="69" r="9.35" fill="#00c000" stroke="#000" stroke-width="3.4"/>
<text transform="translate(422.6,78.4) scale(1,1.1)" style="font-family:'Liberation Sans',sans-serif;font-weight:bold;font-size:22.5px;letter-spacing:1.42px;stroke:#000;stroke-width:0.45px">Mor 2.0 mg/kg</text>
<path d="M359.5,103H400.0" stroke="#8c8cff" stroke-width="3.6"/>
<circle cx="379.5" cy="103" r="9.35" fill="#8c8cff" stroke="#000" stroke-width="3.4"/>
<text transform="translate(422.6,112.4) scale(1,1.1)" style="font-family:'Liberation Sans',sans-serif;font-weight:bold;font-size:22.5px;letter-spacing:1.42px;stroke:#000;stroke-width:0.45px">Mor 4.0 mg/kg</text>
<path d="M359.5,137.5H369.0" stroke="#000" stroke-width="3.6"/>
<path d="M396.0,137.5H400.0" stroke="#000" stroke-width="3.6"/>
<circle cx="379.5" cy="137.5" r="9.35" fill="#ffff00" stroke="#000" stroke-width="3.4"/>
<text transform="translate(422.6,146.9) scale(1,1.1)" style="font-family:'Liberation Sans',sans-serif;font-weight:bold;font-size:22.5px;letter-spacing:1.27px;stroke:#000;stroke-width:0.45px"><tspan style="font-family:'Liberation Serif',serif;font-weight:normal;stroke-width:0">β</tspan><tspan dx="2.5">-FNA+Mor 4.0 mg/kg</tspan></text>
<path d="M359.5,171.6H400.0" stroke="#a3a3a9" stroke-width="3.6"/>
<circle cx="379.5" cy="171.6" r="9.35" fill="#a0a0a4" stroke="#000" stroke-width="3.4"/>
<text transform="translate(422.6,181.0) scale(1,1.1)" style="font-family:'Liberation Sans',sans-serif;font-weight:bold;font-size:22.5px;letter-spacing:1.53px;stroke:#000;stroke-width:0.45px"><tspan style="font-family:'Liberation Serif',serif;font-weight:normal;stroke-width:0">β</tspan><tspan dx="2.5">-FNA+Saline</tspan></text>
<path d="M361.5,802.2H402.0" stroke="#000000" stroke-width="3.6"/>
<circle cx="381.5" cy="802.2" r="9.35" fill="#ffffff" stroke="#000" stroke-width="3.4"/>
<text transform="translate(424.6,811.6) scale(1,1.1)" style="font-family:'Liberation Sans',sans-serif;font-weight:bold;font-size:22.5px;letter-spacing:2.04px;stroke:#000;stroke-width:0.45px">Saline</text>
<path d="M361.5,832.7H402.0" stroke="#ffa040" stroke-width="3.6"/>
<circle cx="381.5" cy="832.7" r="9.35" fill="#ffa040" stroke="#000" stroke-width="3.4"/>
<text transform="translate(424.6,842.1) scale(1,1.1)" style="font-family:'Liberation Sans',sans-serif;font-weight:bold;font-size:22.5px;letter-spacing:1.42px;stroke:#000;stroke-width:0.45px">Mor 2.0 mg/kg</text>
<path d="M361.5,867H402.0" stroke="#a00000" stroke-width="3.6"/>
<circle cx="381.5" cy="867" r="9.35" fill="#a00000" stroke="#000" stroke-width="3.4"/>
<text transform="translate(424.6,876.4) scale(1,1.1)" style="font-family:'Liberation Sans',sans-serif;font-weight:bold;font-size:22.5px;letter-spacing:1.42px;stroke:#000;stroke-width:0.45px">Mor 4.0 mg/kg</text>
<path d="M361.5,903.3H371.0" stroke="#000" stroke-width="3.6"/>
<path d="M398.0,903.3H402.0" stroke="#000" stroke-width="3.6"/>
<circle cx="381.5" cy="903.3" r="9.35" fill="#ffff00" stroke="#000" stroke-width="3.4"/>
<text transform="translate(424.6,912.7) scale(1,1.1)" style="font-family:'Liberation Sans',sans-serif;font-weight:bold;font-size:22.5px;letter-spacing:1.27px;stroke:#000;stroke-width:0.45px"><tspan style="font-family:'Liberation Serif',serif;font-weight:normal;stroke-width:0">β</tspan><tspan dx="2.5">-FNA+Mor 4.0 mg/kg</tspan></text>
<path d="M361.5,939.2H402.0" stroke="#a3a3a9" stroke-width="3.6"/>
<circle cx="381.5" cy="939.2" r="9.35" fill="#a0a0a4" stroke="#000" stroke-width="3.4"/>
<text transform="translate(424.6,948.6) scale(1,1.1)" style="font-family:'Liberation Sans',sans-serif;font-weight:bold;font-size:22.5px;letter-spacing:1.53px;stroke:#000;stroke-width:0.45px"><tspan style="font-family:'Liberation Serif',serif;font-weight:normal;stroke-width:0">β</tspan><tspan dx="2.5">-FNA+Saline</tspan></text>
</svg>
</body></html>
